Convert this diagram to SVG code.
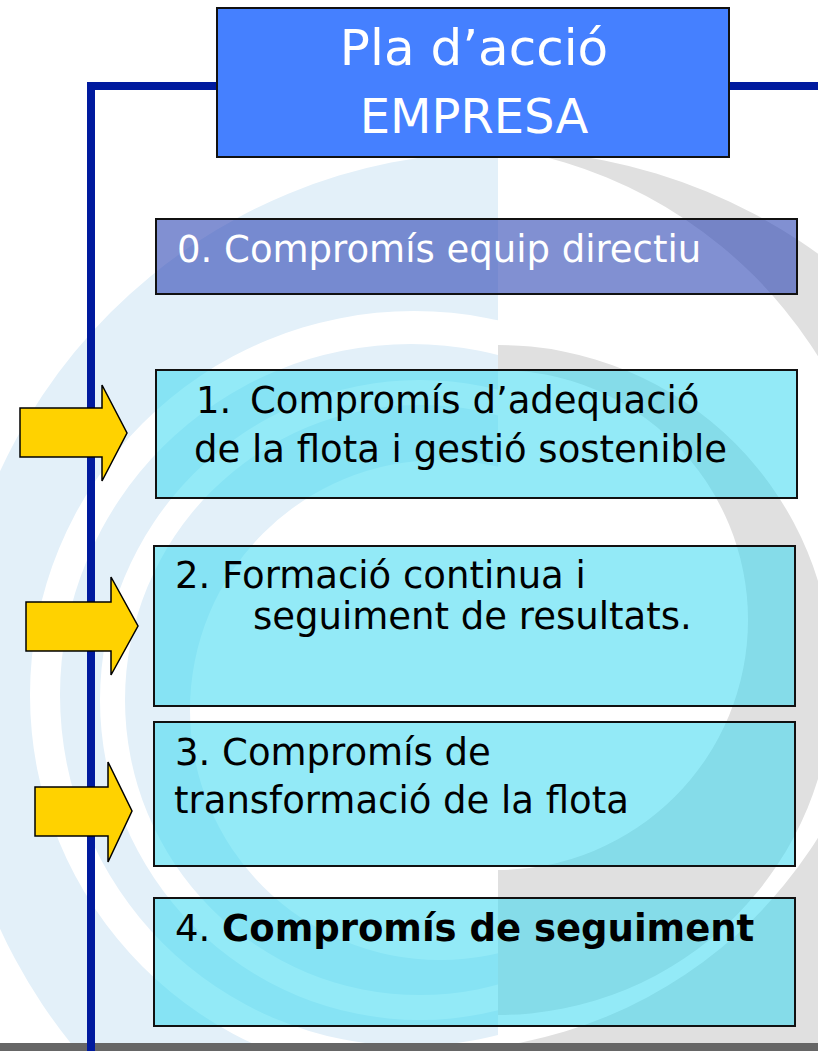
<svg xmlns="http://www.w3.org/2000/svg" width="818" height="1051" viewBox="0 0 818 1051">
  <defs>
    <clipPath id="leftHalf"><rect x="0" y="0" width="498" height="1043"/></clipPath>
    <clipPath id="rightHalf"><rect x="498" y="0" width="320" height="1043"/></clipPath>
    <style>
      .wm-blue { fill: #E3F0F9; fill-rule: evenodd; }
      .wm-gray { fill: #E0E0E0; fill-rule: evenodd; }
      .frame { stroke: #001A9E; stroke-width: 8; fill: none; }
      .box { stroke: #111111; stroke-width: 2; }
      .cyan { fill: #3BD9F0; fill-opacity: 0.55; }
      .purple { fill: #2D46B4; fill-opacity: 0.6; }
      .arrow { fill: #FFD200; stroke: #000000; stroke-width: 1.5; stroke-linejoin: miter; }
      .t { font-family: "DejaVu Sans", Verdana, sans-serif; font-size: 37px; }
      .big { font-size: 48px; }
      .dark { fill: #000000; }
      .light { fill: #FFFFFF; }
    </style>
  </defs>

  <rect x="0" y="0" width="818" height="1051" fill="#FFFFFF"/>

  <!-- watermark -->
  <g id="watermark">
    <g clip-path="url(#leftHalf)">
      <path class="wm-blue" d="M -50 700 A 548 548 0 1 0 1046 700 A 548 548 0 1 0 -50 700 Z M 30 695 A 384 384 0 1 0 798 695 A 384 384 0 1 0 30 695 Z"/>
      <path class="wm-blue" d="M 60 695 A 351 351 0 1 0 762 695 A 351 351 0 1 0 60 695 Z M 100 700 A 320 320 0 1 0 740 700 A 320 320 0 1 0 100 700 Z"/>
      <path class="wm-blue" d="M 125 700 A 295 295 0 1 0 715 700 A 295 295 0 1 0 125 700 Z M 190 710 A 250 250 0 1 0 690 710 A 250 250 0 1 0 190 710 Z"/>
    </g>
    <g clip-path="url(#rightHalf)">
      <path class="wm-gray" d="M -47 695 A 545 545 0 1 0 1043 695 A 545 545 0 1 0 -47 695 Z M -21 597 A 454 454 0 1 0 887 597 A 454 454 0 1 0 -21 597 Z"/>
      <path class="wm-gray" d="M 163 680 A 335 335 0 1 0 833 680 A 335 335 0 1 0 163 680 Z M 248 620 A 250 250 0 1 0 748 620 A 250 250 0 1 0 248 620 Z"/>
    </g>
  </g>

  <!-- bottom bar -->
  <rect x="0" y="1043" width="818" height="8" fill="#666666"/>

  <!-- connectors: frame lines -->
  <g id="connectors">
    <path class="frame" d="M 91 1051 L 91 86 L 217 86"/>
    <path class="frame" d="M 729 86 L 818 86"/>
  </g>

  <g id="title">
    <rect x="217" y="8" width="512" height="149" fill="#4580FF" class="box"/>
    <text class="t light" x="474" y="65" text-anchor="middle" style="font-size:50px">Pla d’acció</text>
    <text class="t light big" x="474" y="133" text-anchor="middle">EMPRESA</text>
  </g>

  <g id="step0">
    <rect x="156" y="219" width="641" height="75" class="box purple"/>
    <text class="t light" x="177" y="262">0. Compromís equip directiu</text>
  </g>

  <g id="step1">
    <rect x="156" y="370" width="641" height="128" class="box cyan"/>
    <text class="t dark" x="196" y="413">1.</text>
    <text class="t dark" x="250" y="413">Compromís d’adequació</text>
    <text class="t dark" x="194" y="462">de la flota i gestió sostenible</text>
  </g>

  <g id="step2">
    <rect x="154" y="546" width="641" height="160" class="box cyan"/>
    <text class="t dark" x="175" y="588">2. Formació continua i</text>
    <text class="t dark" x="253" y="629">seguiment de resultats.</text>
  </g>

  <g id="step3">
    <rect x="154" y="722" width="641" height="144" class="box cyan"/>
    <text class="t dark" x="175" y="765">3. Compromís de</text>
    <text class="t dark" x="174" y="813">transformació de la flota</text>
  </g>

  <g id="step4">
    <rect x="154" y="898" width="641" height="128" class="box cyan"/>
    <text class="t dark" x="175" y="941">4. <tspan font-weight="bold">Compromís de seguiment</tspan></text>
  </g>

  <g id="arrows">
    <polygon class="arrow" points="20,408 102,408 102,385 127,433 102,481 102,457 20,457"/>
    <polygon class="arrow" points="26,602 111,602 111,577 138,626 111,675 111,651 26,651"/>
    <polygon class="arrow" points="35,787 108,787 108,762 132,811 108,862 108,836 35,836"/>
  </g>
</svg>
